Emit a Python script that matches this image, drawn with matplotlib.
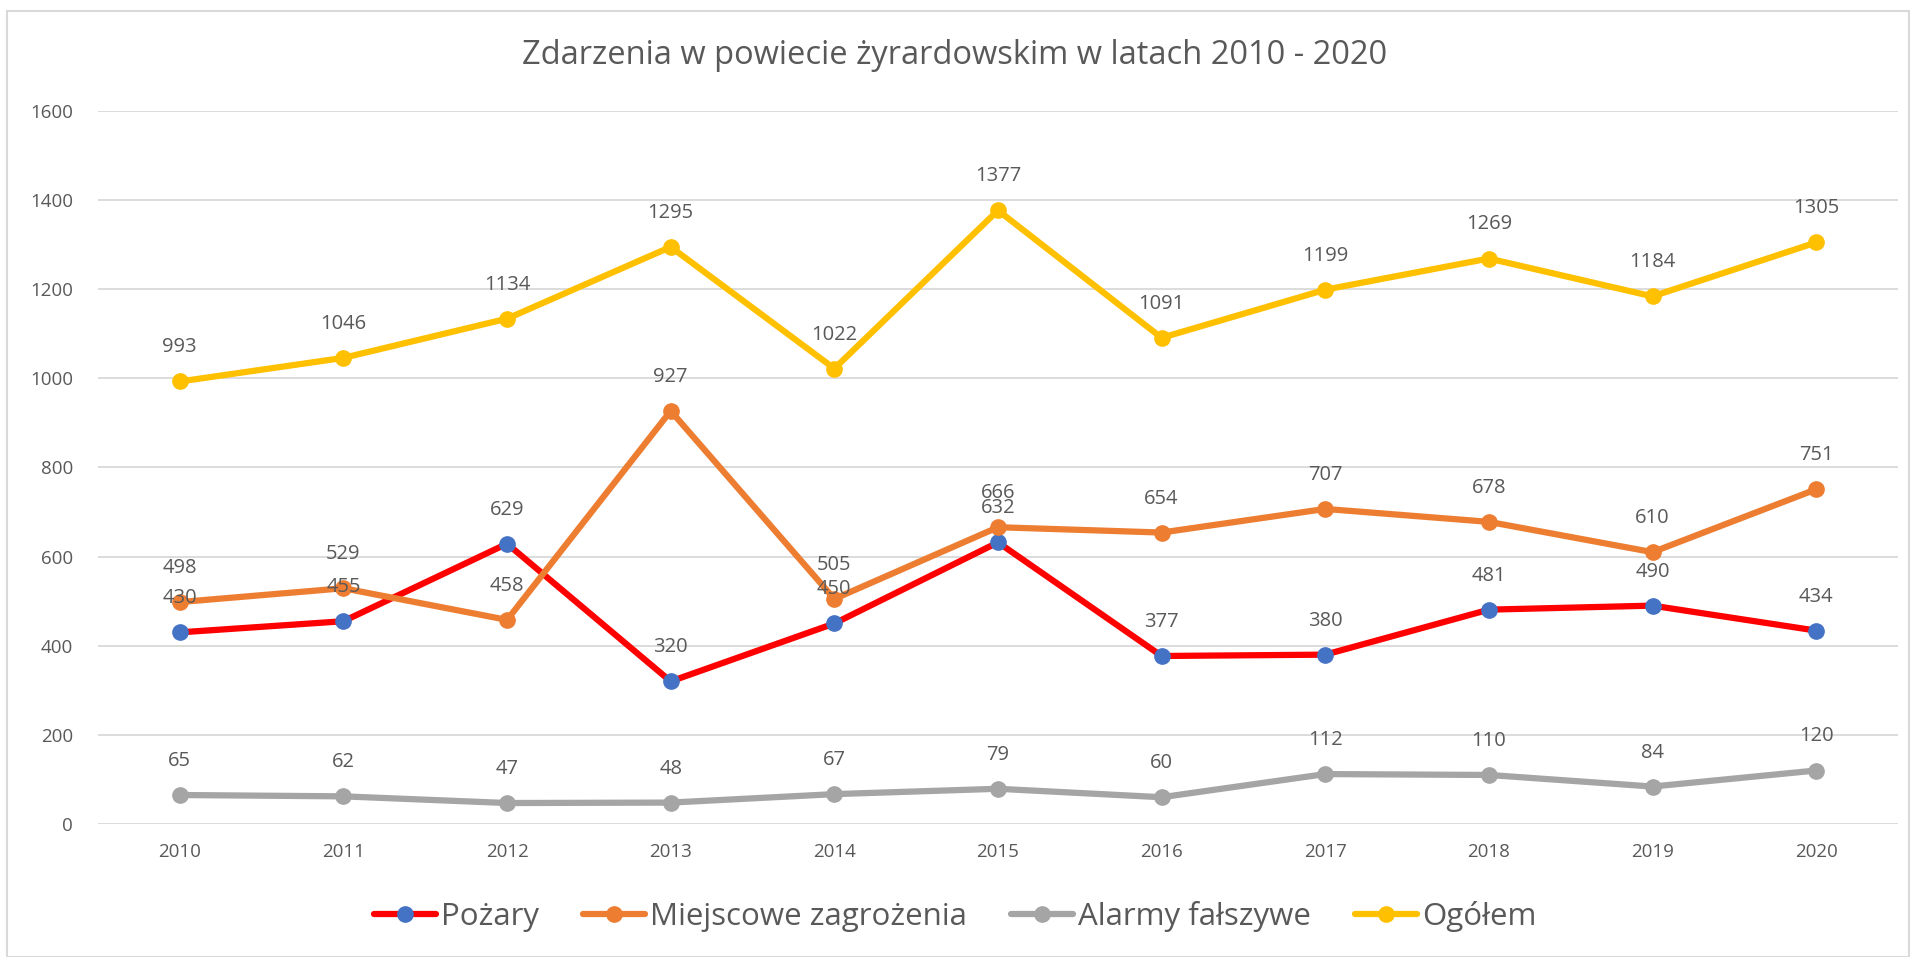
import matplotlib.pyplot as plt
from matplotlib.patches import Rectangle

plt.rcParams['font.family'] = ['Open Sans', 'DejaVu Sans']

years = ['2010', '2011', '2012', '2013', '2014', '2015', '2016', '2017', '2018', '2019', '2020']
pozary = [430, 455, 629, 320, 450, 632, 377, 380, 481, 490, 434]
miejscowe = [498, 529, 458, 927, 505, 666, 654, 707, 678, 610, 751]
alarmy = [65, 62, 47, 48, 67, 79, 60, 112, 110, 84, 120]
ogolem = [993, 1046, 1134, 1295, 1022, 1377, 1091, 1199, 1269, 1184, 1305]

series = [
    ('Pożary', pozary, '#FF0000', '#4472C4'),
    ('Miejscowe zagrożenia', miejscowe, '#ED7D31', '#ED7D31'),
    ('Alarmy fałszywe', alarmy, '#A5A5A5', '#A5A5A5'),
    ('Ogółem', ogolem, '#FFC000', '#FFC000'),
]

txt = '#595959'

fig = plt.figure(figsize=(19.1, 9.57), dpi=100)
ax = fig.add_axes([0.0513, 0.139, 0.9424, 0.745])

x = list(range(len(years)))
for name, vals, col, mcol in series:
    ax.plot(x, vals, color=col, lw=4.5, marker='o', ms=11,
            mfc=mcol, mec=mcol, label=name, solid_capstyle='round')
    for xi, v in zip(x, vals):
        ax.annotate(str(v), (xi, v), xytext=(0, 24.5), textcoords='offset points',
                    ha='center', va='center', fontsize=14.5, color=txt)

ax.set_xlim(-0.5, len(years) - 0.5)
ax.set_ylim(0, 1600)
ax.set_yticks(range(0, 1601, 200))
ax.set_xticks(x)
ax.set_xticklabels(years)
ax.tick_params(axis='both', length=0, labelsize=13.5, labelcolor=txt)
ax.tick_params(axis='x', pad=14)
ax.tick_params(axis='y', pad=18)
ax.grid(axis='y', color='#D9D9D9', lw=1.3)
ax.set_axisbelow(True)
for s in ax.spines.values():
    s.set_visible(False)

fig.text(0.5, 0.942, 'Zdarzenia w powiecie żyrardowskim w latach 2010 - 2020',
         ha='center', va='center', fontsize=23.5, color=txt)

fig.legend(loc='center', bbox_to_anchor=(0.5, 0.042), ncol=4, frameon=False,
           fontsize=22.5, labelcolor=txt, handlelength=2.0, columnspacing=1.4,
           handletextpad=0.15)

fig.patches.append(Rectangle((7 / 1910, 0), 1 - 8 / 1910, 1 - 11 / 957,
                             transform=fig.transFigure, fill=False,
                             edgecolor='#D9D9D9', lw=1.5))

fig.savefig('out.png', dpi=100)
